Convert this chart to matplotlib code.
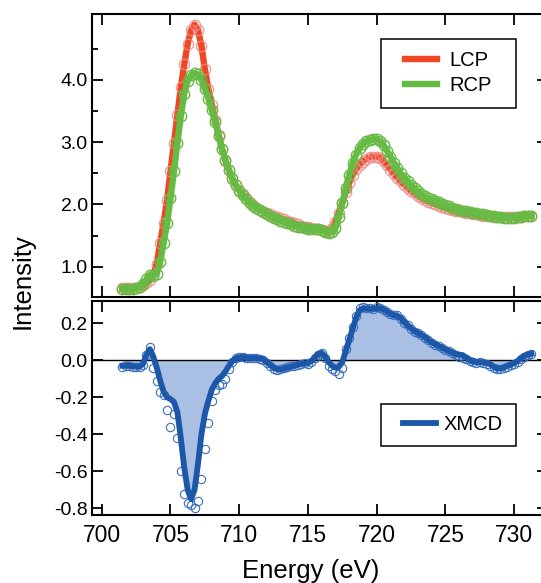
import numpy as np
import matplotlib
matplotlib.use("Agg")
import matplotlib.pyplot as plt
from matplotlib.patches import Rectangle
from matplotlib.ticker import FixedLocator, FormatStrFormatter

# photon energy (eV)
energy = [
    701.50, 701.75, 702.00, 702.25, 702.50, 702.75, 703.00, 703.25,
    703.50, 703.75, 704.00, 704.25, 704.50, 704.75, 705.00, 705.25,
    705.50, 705.75, 706.00, 706.25, 706.50, 706.75, 707.00, 707.25,
    707.50, 707.75, 708.00, 708.25, 708.50, 708.75, 709.00, 709.25,
    709.50, 709.75, 710.00, 710.25, 710.50, 710.75, 711.00, 711.25,
    711.50, 711.75, 712.00, 712.25, 712.50, 712.75, 713.00, 713.25,
    713.50, 713.75, 714.00, 714.25, 714.50, 714.75, 715.00, 715.25,
    715.50, 715.75, 716.00, 716.25, 716.50, 716.75, 717.00, 717.25,
    717.50, 717.75, 718.00, 718.25, 718.50, 718.75, 719.00, 719.25,
    719.50, 719.75, 720.00, 720.25, 720.50, 720.75, 721.00, 721.25,
    721.50, 721.75, 722.00, 722.25, 722.50, 722.75, 723.00, 723.25,
    723.50, 723.75, 724.00, 724.25, 724.50, 724.75, 725.00, 725.25,
    725.50, 725.75, 726.00, 726.25, 726.50, 726.75, 727.00, 727.25,
    727.50, 727.75, 728.00, 728.25, 728.50, 728.75, 729.00, 729.25,
    729.50, 729.75, 730.00, 730.25, 730.50, 730.75, 731.00, 731.25,
]

lcp = [
    0.65, 0.65, 0.65, 0.65, 0.66, 0.67, 0.70, 0.74,
    0.79, 0.87, 1.05, 1.38, 1.70, 2.07, 2.53, 2.98,
    3.43, 3.88, 4.25, 4.58, 4.80, 4.89, 4.80, 4.55,
    4.17, 3.86, 3.60, 3.36, 3.12, 2.89, 2.70, 2.55,
    2.41, 2.31, 2.23, 2.16, 2.10, 2.04, 1.99, 1.95,
    1.91, 1.88, 1.86, 1.84, 1.82, 1.80, 1.78, 1.76,
    1.74, 1.72, 1.70, 1.68, 1.66, 1.64, 1.63, 1.62,
    1.61, 1.60, 1.59, 1.58, 1.57, 1.62, 1.72, 1.87,
    2.03, 2.20, 2.35, 2.47, 2.57, 2.64, 2.69, 2.73,
    2.76, 2.77, 2.77, 2.75, 2.70, 2.63, 2.56, 2.49,
    2.43, 2.37, 2.32, 2.27, 2.22, 2.18, 2.14, 2.10,
    2.07, 2.04, 2.02, 2.00, 1.98, 1.96, 1.94, 1.92,
    1.91, 1.90, 1.89, 1.88, 1.87, 1.86, 1.85, 1.84,
    1.83, 1.82, 1.81, 1.81, 1.80, 1.80, 1.80, 1.80,
    1.80, 1.80, 1.80, 1.80, 1.80, 1.81, 1.81, 1.81,
]

rcp = [
    0.64, 0.64, 0.64, 0.64, 0.65, 0.67, 0.72, 0.80,
    0.87, 0.85, 0.89, 1.08, 1.38, 1.70, 2.10, 2.53,
    2.99, 3.42, 3.78, 3.99, 4.08, 4.11, 4.09, 4.00,
    3.86, 3.70, 3.52, 3.33, 3.10, 2.89, 2.71, 2.56,
    2.42, 2.31, 2.22, 2.15, 2.09, 2.03, 1.98, 1.94,
    1.91, 1.88, 1.85, 1.82, 1.79, 1.77, 1.74, 1.72,
    1.70, 1.68, 1.66, 1.64, 1.63, 1.62, 1.61, 1.60,
    1.60, 1.60, 1.59, 1.56, 1.54, 1.56, 1.62, 1.80,
    2.02, 2.26, 2.48, 2.66, 2.80, 2.90, 2.97, 3.02,
    3.04, 3.05, 3.05, 3.02, 2.95, 2.86, 2.77, 2.67,
    2.58, 2.50, 2.43, 2.37, 2.31, 2.26, 2.21, 2.17,
    2.13, 2.10, 2.08, 2.06, 2.04, 2.01, 1.99, 1.97,
    1.95, 1.93, 1.91, 1.90, 1.89, 1.88, 1.87, 1.86,
    1.85, 1.84, 1.83, 1.82, 1.81, 1.80, 1.80, 1.79,
    1.79, 1.79, 1.79, 1.80, 1.80, 1.81, 1.81, 1.82,
]

# smoothed dichroism curve
xmcd = [
    -0.030, -0.030, -0.030, -0.032, -0.035, -0.035, -0.020, 0.030,
    0.060, 0.020, -0.040, -0.110, -0.170, -0.200, -0.210, -0.225,
    -0.280, -0.420, -0.580, -0.700, -0.750, -0.700, -0.560, -0.400,
    -0.290, -0.220, -0.160, -0.125, -0.100, -0.085, -0.060, -0.030,
    -0.005, 0.010, 0.015, 0.018, 0.015, 0.012, 0.012, 0.012,
    0.010, 0.005, -0.010, -0.025, -0.040, -0.048, -0.050, -0.045,
    -0.040, -0.035, -0.030, -0.025, -0.020, -0.018, -0.015, -0.005,
    0.015, 0.035, 0.040, 0.020, -0.010, -0.030, -0.040, -0.035,
    -0.010, 0.050, 0.110, 0.170, 0.230, 0.270, 0.280, 0.280,
    0.278, 0.278, 0.280, 0.282, 0.275, 0.262, 0.250, 0.243,
    0.240, 0.228, 0.205, 0.190, 0.172, 0.158, 0.147, 0.137,
    0.125, 0.110, 0.097, 0.087, 0.077, 0.068, 0.058, 0.050,
    0.042, 0.032, 0.030, 0.028, 0.015, 0.000, -0.008, -0.010,
    -0.010, -0.012, -0.015, -0.022, -0.035, -0.045, -0.045, -0.040,
    -0.030, -0.025, -0.015, -0.005, 0.010, 0.025, 0.030, 0.035,
]

# measured dichroism points
xmcd_pts = [
    -0.035, -0.030, -0.032, -0.035, -0.038, -0.036, -0.028, 0.030,
    0.070, -0.040, -0.110, -0.170, -0.190, -0.270, -0.360, -0.290,
    -0.420, -0.600, -0.720, -0.770, -0.780, -0.800, -0.760, -0.640,
    -0.480, -0.340, -0.220, -0.160, -0.135, -0.126, -0.100, -0.050,
    -0.010, 0.012, 0.020, 0.015, 0.014, 0.012, 0.010, 0.012,
    0.008, 0.000, -0.015, -0.030, -0.045, -0.052, -0.050, -0.040,
    -0.038, -0.032, -0.030, -0.028, -0.020, -0.015, -0.018, -0.010,
    0.010, 0.030, 0.040, 0.010, -0.030, -0.050, -0.060, -0.075,
    -0.040, 0.060, 0.120, 0.180, 0.240, 0.280, 0.285, 0.283,
    0.280, 0.278, 0.285, 0.280, 0.270, 0.262, 0.252, 0.245,
    0.242, 0.225, 0.200, 0.190, 0.170, 0.155, 0.145, 0.135,
    0.122, 0.108, 0.095, 0.085, 0.075, 0.066, 0.056, 0.048,
    0.040, 0.030, 0.020, 0.012, 0.005, -0.005, -0.012, -0.015,
    -0.012, -0.015, -0.020, -0.030, -0.040, -0.050, -0.048, -0.042,
    -0.035, -0.028, -0.018, -0.008, 0.005, 0.020, 0.028, 0.035,
]

energy = np.array(energy)
lcp = np.array(lcp)
rcp = np.array(rcp)
xmcd = np.array(xmcd)
xmcd_pts = np.array(xmcd_pts)

plt.rcParams['font.family'] = ['Liberation Sans', 'DejaVu Sans']
plt.rcParams['axes.unicode_minus'] = False

red = '#ef4623'
pink = '#f28b8b'
green = '#66bb44'
blue = '#1c57a8'
fill_blue = '#a9c0e4'

fig = plt.figure(figsize=(5.41, 5.83), dpi=100)
W, H = 541.0, 583.0
left, right = 92 / W, 548 / W
ax1 = fig.add_axes([left, 1 - 297 / H, right - left, (297 - 14) / H])
ax2 = fig.add_axes([left, 1 - 515 / H, right - left, (515 - 301) / H])

# absorption spectra: fitted line under the measured circles
ax1.plot(energy, lcp, color=red, lw=4.6, label='LCP', zorder=2)
ax1.plot(energy, lcp, 'o', ms=7.5, mfc='none', mec=pink, mew=0.9, alpha=0.9, zorder=3)
ax1.plot(energy, rcp, color=green, lw=4.6, label='RCP', zorder=4)
ax1.plot(energy, rcp, 'o', ms=7.5, mfc='none', mec=green, mew=1.0, zorder=5)

# dichroism with shaded area
ax2.fill_between(energy, xmcd, 0, color=fill_blue, lw=0, zorder=1)
ax2.axhline(0, color='k', lw=1.0, zorder=2)
ax2.plot(energy, xmcd_pts, 'o', ms=6, mfc='none', mec='#3a6fc0', mew=0.8, zorder=3)
ax2.plot(energy, xmcd, color=blue, lw=4.2, label='XMCD', zorder=4)

for ax in (ax1, ax2):
    ax.set_xlim(699.29, 732.46)
    ax.xaxis.set_major_locator(FixedLocator([700, 705, 710, 715, 720, 725, 730]))
    ax.tick_params(which='both', direction='in', top=True, right=True, width=1.3)
    ax.tick_params(which='major', length=8)
    ax.tick_params(which='minor', length=4.5)
    ax.tick_params(axis='y', labelsize=14, pad=3)
    ax.tick_params(axis='x', labelsize=16.5, pad=6.5)
    for sp in ax.spines.values():
        sp.set_linewidth(1.5)

ax1.set_ylim(0.513, 5.06)
ax1.yaxis.set_major_locator(FixedLocator([1.0, 2.0, 3.0, 4.0]))
ax1.yaxis.set_minor_locator(FixedLocator([1.5, 2.5, 3.5, 4.5]))
ax1.yaxis.set_major_formatter(FormatStrFormatter('%.1f'))
ax1.tick_params(axis='x', labelbottom=False)

ax2.set_ylim(-0.836, 0.32)
ax2.yaxis.set_major_locator(FixedLocator([-0.8, -0.6, -0.4, -0.2, 0.0, 0.2]))
ax2.yaxis.set_major_formatter(FormatStrFormatter('%.1f'))

# legends inside square frames
ax1.add_patch(Rectangle(((381 - 92) / 456, 1 - (108 - 14) / 283), (516 - 381) / 456, 69 / 283,
                        transform=ax1.transAxes, fill=False, ec='k', lw=1.1, zorder=10))
ax1.legend(loc='center', bbox_to_anchor=(0.782, 0.790), frameon=False, fontsize=14.5,
           handlelength=1.6, handletextpad=0.6, labelspacing=0.3, borderpad=0)

ax2.add_patch(Rectangle(((381 - 92) / 456, 1 - (446 - 301) / 214), (516 - 381) / 456, 42 / 214,
                        transform=ax2.transAxes, fill=False, ec='k', lw=1.1, zorder=10))
ax2.legend(loc='center', bbox_to_anchor=(0.792, 0.421), frameon=False, fontsize=14.5,
           handlelength=1.6, handletextpad=0.4, borderpad=0)

fig.text(311 / W, 1 - 578 / H, 'Energy (eV)', fontsize=18.5, ha='center', va='baseline')
fig.text(23 / W, 1 - 281 / H, 'Intensity', fontsize=18.5, rotation=90, ha='center', va='center')

fig.savefig('out.png', dpi=100)
